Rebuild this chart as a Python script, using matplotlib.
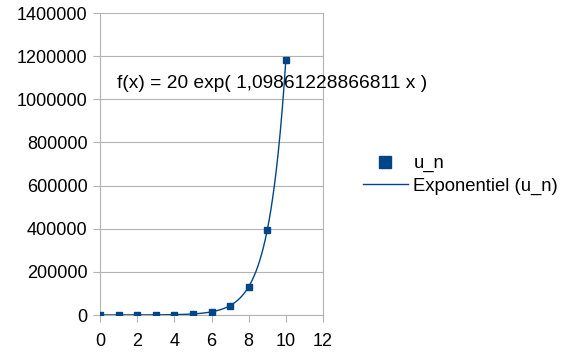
import numpy as np
import matplotlib
matplotlib.use("Agg")
import matplotlib.pyplot as plt

plt.rcParams['font.family'] = ['Liberation Sans', 'DejaVu Sans']

n_values = [0, 1, 2, 3, 4, 5, 6, 7, 8, 9, 10]
u_n = [20, 60, 180, 540, 1620, 4860, 14580, 43740, 131220, 393660, 1180980]
series_label = "u_n"
trend_label = "Exponentiel (u_n)"
x_ticks = [0, 2, 4, 6, 8, 10, 12]
y_ticks = [0, 200000, 400000, 600000, 800000, 1000000, 1200000, 1400000]

color = "#004586"
fs = 13

fig = plt.figure(figsize=(5.62, 3.53), dpi=100)
ax = fig.add_axes([100/562, 1-315/353, 223/562, 302/353])

x = np.array(n_values, dtype=float)
y = np.array(u_n, dtype=float)
b, lna = np.polyfit(x, np.log(y), 1)
a = np.exp(lna)
xs = np.linspace(x.min(), x.max(), 400)
ax.plot(xs, a*np.exp(b*xs), color=color, lw=1.0, zorder=3, label=trend_label)
ax.plot(x, y, ls='none', marker='s', ms=5, color=color, zorder=4, label=series_label)

ax.set_xlim(0, 12)
ax.set_ylim(0, 1400000)
ax.set_xticks(x_ticks)
ax.set_yticks(y_ticks)
ax.set_xticklabels([str(t) for t in x_ticks])
ax.set_yticklabels([str(t) for t in y_ticks])
ax.grid(axis='y', color='#b3b3b3', lw=0.8)
ax.set_axisbelow(True)
for s in ['left', 'right', 'top', 'bottom']:
    ax.spines[s].set_color('#b3b3b3')
    ax.spines[s].set_linewidth(0.8)
ax.spines['top'].set_visible(False)
ax.tick_params(axis='both', colors='#b3b3b3', labelcolor='black', labelsize=fs, length=5, width=0.8)
ax.tick_params(axis='x', pad=8)
ax.tick_params(axis='y', pad=4)

coef = f"{b:.14f}".replace('.', ',')
ax.text(0.9, 1075000, f"f(x) = {a:.0f} exp( {coef} x )", fontsize=13.75, va='center', ha='left', zorder=5, clip_on=False)

lfs = 13.3
handles, labels = ax.get_legend_handles_labels()
fig.legend([handles[1], handles[0]], [labels[1], labels[0]], loc='center left',
           bbox_to_anchor=(346/562, 1-175/353), frameon=False, fontsize=lfs,
           handlelength=2.45, handletextpad=0.3, labelspacing=0.3, markerscale=1.8,
           borderaxespad=0.5, borderpad=0.4)

fig.savefig("out.png", dpi=100)
